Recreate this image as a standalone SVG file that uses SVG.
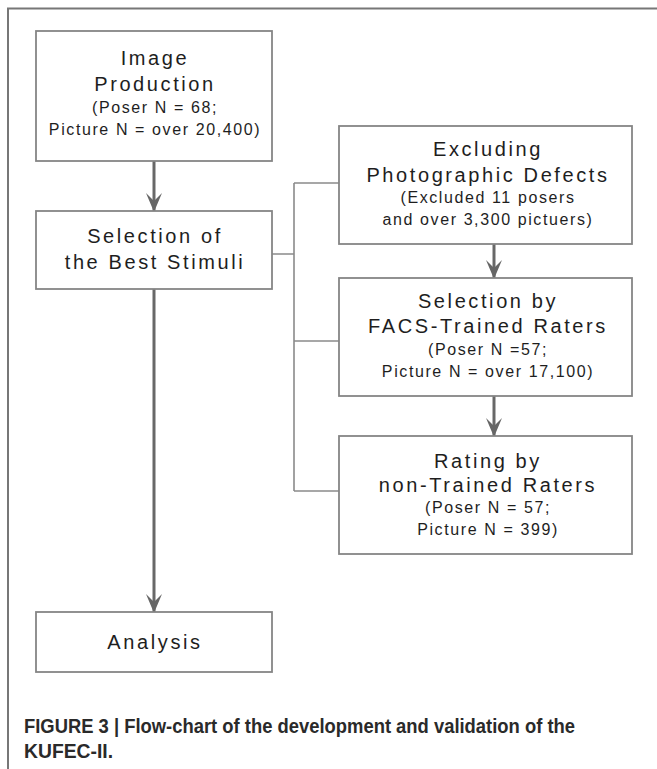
<svg xmlns="http://www.w3.org/2000/svg" width="657" height="769" viewBox="0 0 657 769">
<defs>
<marker id="ah" viewBox="0 0 20 16" refX="20" refY="8" markerWidth="20" markerHeight="16" markerUnits="userSpaceOnUse" orient="auto">
<path d="M20,8 L1,0 L9,8 L1,16 Z" fill="#666"/>
</marker>
</defs>
<style>
.box{fill:#fff;stroke:#858585;stroke-width:1.8}
.big{font-family:"Liberation Sans",Arial,sans-serif;font-size:20px;letter-spacing:2.6px;fill:#1e1e1e;text-anchor:middle}
.sm{font-family:"Liberation Sans",Arial,sans-serif;font-size:16px;letter-spacing:1.6px;fill:#1e1e1e;text-anchor:middle}
.arr{stroke:#686868;stroke-width:3;fill:none}
.br{stroke:#8a8a8a;stroke-width:1.6;fill:none}
.cap{font-family:"Liberation Sans",Arial,sans-serif;font-size:20px;font-weight:bold;fill:#2a2a2a}
</style>
<rect width="657" height="769" fill="#fff"/>
<g id="frame">
<path d="M8,769 L8,8.5 L657,8.5" fill="none" stroke="#777" stroke-width="2"/>
</g>
<g id="connectors">
<line class="arr" x1="154" y1="161" x2="154" y2="212" marker-end="url(#ah)"/>
<line class="arr" x1="154" y1="289" x2="154" y2="613" marker-end="url(#ah)"/>
<line class="arr" x1="494" y1="244" x2="494" y2="279" marker-end="url(#ah)"/>
<line class="arr" x1="494" y1="396" x2="494" y2="437" marker-end="url(#ah)"/>
<path class="br" d="M272,254 L294,254 M294,183 L294,491 M294,183 L339,183 M294,341 L339,341 M294,491 L339,491"/>
</g>
<g id="image-production">
<rect class="box" x="36" y="31" width="236" height="130"/>
<text class="big" x="155" y="65">Image</text>
<text class="big" x="155" y="91">Production</text>
<text class="sm" x="155" y="113">(Poser N = 68;</text>
<text class="sm" x="155" y="135">Picture N = over 20,400)</text>
</g>
<g id="selection-best">
<rect class="box" x="36" y="211" width="236" height="78"/>
<text class="big" x="155" y="243">Selection of</text>
<text class="big" x="155" y="269">the Best Stimuli</text>
</g>
<g id="excluding">
<rect class="box" x="339" y="126" width="293" height="118"/>
<text class="big" x="488" y="156">Excluding</text>
<text class="big" x="488" y="182">Photographic Defects</text>
<text class="sm" x="488" y="203">(Excluded 11 posers</text>
<text class="sm" x="488" y="225">and over 3,300 pictuers)</text>
</g>
<g id="facs">
<rect class="box" x="339" y="278" width="293" height="118"/>
<text class="big" x="488" y="308">Selection by</text>
<text class="big" x="488" y="333">FACS-Trained Raters</text>
<text class="sm" x="488" y="355">(Poser N =57;</text>
<text class="sm" x="488" y="377">Picture N = over 17,100)</text>
</g>
<g id="rating">
<rect class="box" x="339" y="436" width="293" height="118"/>
<text class="big" x="488" y="468">Rating by</text>
<text class="big" x="488" y="492">non-Trained Raters</text>
<text class="sm" x="488" y="513">(Poser N = 57;</text>
<text class="sm" x="488" y="535">Picture N = 399)</text>
</g>
<g id="analysis">
<rect class="box" x="36" y="612" width="236" height="60"/>
<text class="big" x="155" y="649">Analysis</text>
</g>
<g id="caption">
<text class="cap" x="24" y="733" textLength="551" lengthAdjust="spacingAndGlyphs">FIGURE 3 | Flow-chart of the development and validation of the</text>
<text class="cap" x="24" y="758" textLength="89" lengthAdjust="spacingAndGlyphs">KUFEC-II.</text>
</g>
</svg>
